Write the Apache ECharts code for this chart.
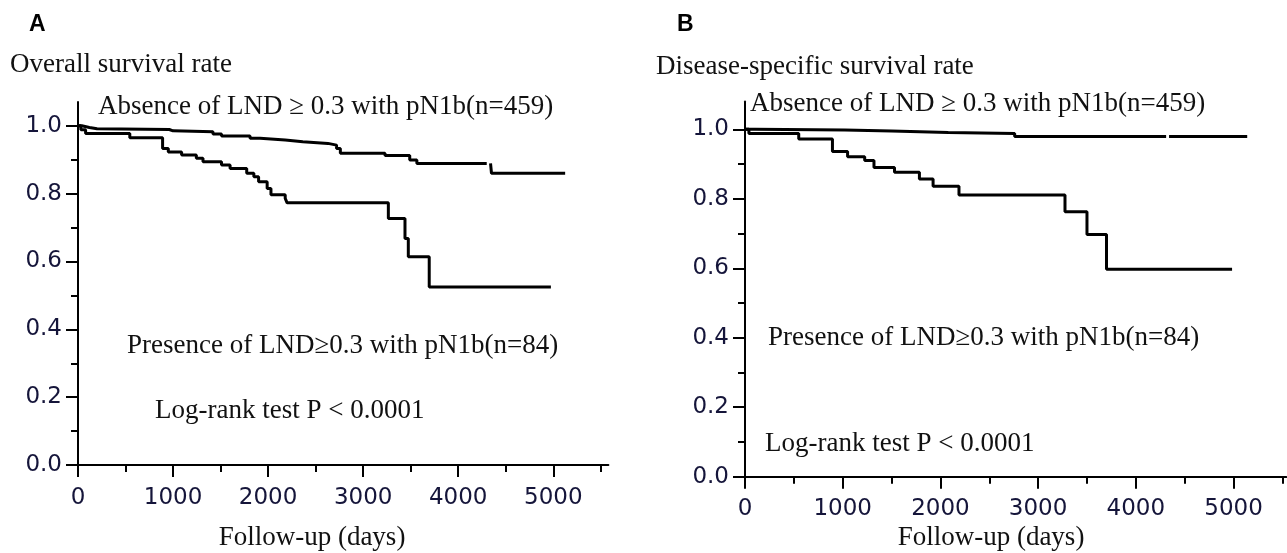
<!DOCTYPE html>
<html>
<head>
<meta charset="utf-8">
<script src="https://cdn.jsdelivr.net/npm/echarts@6/dist/echarts.min.js"></script>
<style>
html,body{margin:0;padding:0;background:#fff;}
#chart{width:1287px;height:553px;}
</style>
</head>
<body>
<div id="chart"></div>
<script>
// ---- tick labels ----
const xTicks = [0, 1000, 2000, 3000, 4000, 5000];
const xMinorTicks = [500, 1500, 2500, 3500, 4500, 5500];
const yTicks = [0, 0.2, 0.4, 0.6, 0.8, 1.0];
const yMinorTicks = [0.1, 0.3, 0.5, 0.7, 0.9];

// ---- texts ----
const panelLetters = ['A', 'B'];
const panelTitles = ['Overall survival rate', 'Disease-specific survival rate'];
const absenceLabel = 'Absence of LND \u2265 0.3 with pN1b(n=459)';
const presenceLabel = 'Presence of LND\u22650.3 with pN1b(n=84)';
const logRankLabel = 'Log-rank test P < 0.0001';
const xAxisTitle = 'Follow-up (days)';

// ---- Kaplan-Meier estimates: [day, survival] ----
// Panel A: overall survival
const osAbsence = [[0,1],[40,0.995],[120,0.991],[200,0.989],[960,0.985],[1000,0.982],[1420,0.976],[1510,0.970],[1810,0.963],[1915,0.958],[2180,0.953],[2365,0.948],[2630,0.943],[2720,0.933],[2760,0.919],[3230,0.912],[3490,0.899],[3565,0.889],[4290,0.889],[4300,null],[4340,0.889],[4350,0.860],[5125,0.860]];
const osPresence = [[0,1],[30,0.988],[80,0.977],[545,0.965],[890,0.933],[950,0.923],[1090,0.914],[1245,0.904],[1315,0.894],[1510,0.884],[1600,0.874],[1775,0.860],[1850,0.850],[1900,0.835],[1990,0.815],[2030,0.797],[2180,0.786],[2200,0.773],[3265,0.727],[3440,0.668],[3475,0.614],[3695,0.525],[4975,0.525]];
// Panel B: disease-specific survival
const dssAbsence = [[0,1],[100,0.998],[1020,0.995],[1500,0.991],[2080,0.988],[2760,0.979],[4297,0.979],[4310,null],[4340,0.979],[5140,0.979]];
const dssPresence = [[0,1],[40,0.988],[550,0.972],[895,0.936],[1050,0.921],[1225,0.910],[1320,0.890],[1530,0.876],[1785,0.857],[1925,0.836],[2190,0.811],[3275,0.763],[3500,0.697],[3700,0.597],[4985,0.597]];

const serif = '"Liberation Serif", "Times New Roman", serif';
const sans = '"DejaVu Sans", Verdana, sans-serif';
const labelColor = '#15153a';

function majorX(grid, max) {
  return {
    type: 'value', gridIndex: grid, min: 0, max: max, position: 'bottom',
    splitLine: {show: false},
    axisLine: {show: true, lineStyle: {color: '#000', width: 2}},
    axisTick: {show: true, customValues: xTicks, length: 12, inside: false, lineStyle: {color: '#000', width: 2}},
    axisLabel: {show: true, customValues: xTicks, margin: 21, fontFamily: sans, fontSize: 23, color: labelColor,
      formatter: function (v) { return String(Math.round(v)); }}
  };
}
function minorX(grid, max) {
  return {
    type: 'value', gridIndex: grid, min: 0, max: max, position: 'bottom', offset: 0,
    splitLine: {show: false},
    axisLine: {show: false},
    axisTick: {show: true, customValues: xMinorTicks, length: 7, lineStyle: {color: '#000', width: 2}},
    axisLabel: {show: false}
  };
}
function majorY(grid, max) {
  return {
    type: 'value', gridIndex: grid, min: 0, max: max, position: 'left',
    splitLine: {show: false},
    axisLine: {show: true, lineStyle: {color: '#000', width: 2}},
    axisTick: {show: true, customValues: yTicks, length: 12, lineStyle: {color: '#000', width: 2}},
    axisLabel: {show: true, customValues: yTicks, margin: 16, fontFamily: sans, fontSize: 23, color: labelColor,
      formatter: function (v) { return Number(v).toFixed(1); }}
  };
}
function minorY(grid, max) {
  return {
    type: 'value', gridIndex: grid, min: 0, max: max, position: 'left', offset: 0,
    splitLine: {show: false},
    axisLine: {show: false},
    axisTick: {show: true, customValues: yMinorTicks, length: 7, lineStyle: {color: '#000', width: 2}},
    axisLabel: {show: false}
  };
}
function km(data, xi, yi, name) {
  return {
    type: 'line', name: name, xAxisIndex: xi, yAxisIndex: yi, data: data,
    step: 'end', showSymbol: false, symbol: 'none', connectNulls: false,
    lineStyle: {color: '#000', width: 3}, silent: true
  };
}
function txt(text, x, y, size, opts) {
  opts = opts || {};
  return {
    type: 'text', x: x, y: y, silent: true,
    style: {
      text: text, fill: opts.fill || '#111',
      font: (opts.weight || 'normal') + ' ' + size + 'px ' + (opts.family || serif),
      textAlign: opts.align || 'left', textVerticalAlign: 'middle'
    }
  };
}

const chart = echarts.init(document.getElementById('chart'), null, {renderer: 'canvas'});
chart.setOption({
  animation: false,
  backgroundColor: '#fff',
  grid: [
    {left: 78, top: 102, width: 530.4, height: 363.1, outerBoundsMode: 'none', containLabel: false},
    {left: 745, top: 101.5, width: 541.3, height: 375.2, outerBoundsMode: 'none', containLabel: false}
  ],
  xAxis: [majorX(0, 5580), minorX(0, 5580), majorX(1, 5540), minorX(1, 5540)],
  yAxis: [majorY(0, 1.07), minorY(0, 1.07), majorY(1, 1.08), minorY(1, 1.08)],
  series: [
    km(osAbsence, 0, 0, 'Absence (OS)'),
    km(osPresence, 0, 0, 'Presence (OS)'),
    km(dssAbsence, 2, 2, 'Absence (DSS)'),
    km(dssPresence, 2, 2, 'Presence (DSS)')
  ],
  graphic: [
    txt(panelLetters[0], 29, 25, 23, {weight: 'bold', family: '"Liberation Sans", Arial, sans-serif', fill: '#000'}),
    txt(panelLetters[1], 677, 25, 23, {weight: 'bold', family: '"Liberation Sans", Arial, sans-serif', fill: '#000'}),
    txt(panelTitles[0], 10, 65, 27),
    txt(panelTitles[1], 656, 67, 27),
    txt(absenceLabel, 98, 107, 27),
    txt(presenceLabel, 127, 346, 27),
    txt(logRankLabel, 155, 411, 27),
    txt(xAxisTitle, 312, 538, 27, {align: 'center'}),
    txt(absenceLabel, 750, 104, 27),
    txt(presenceLabel, 768, 338, 27),
    txt(logRankLabel, 765, 444, 27),
    txt(xAxisTitle, 991, 538, 27, {align: 'center'})
  ]
});
</script>
</body>
</html>
